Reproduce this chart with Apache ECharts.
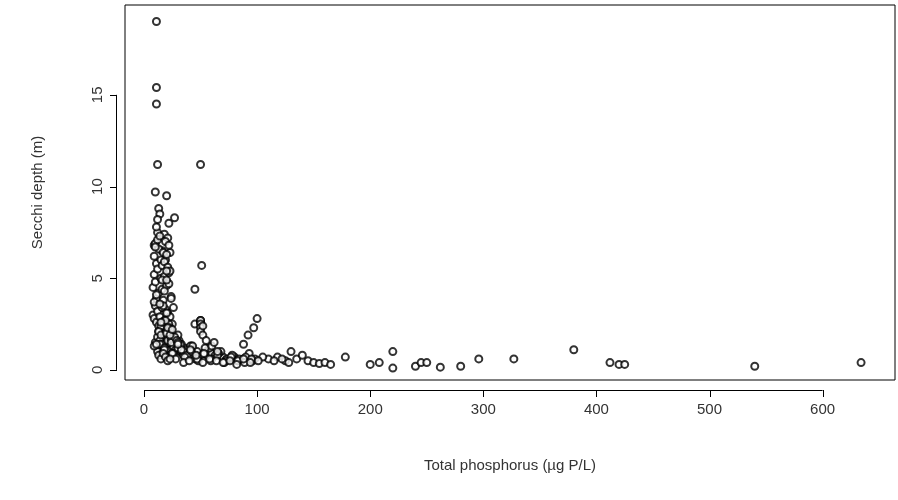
<!DOCTYPE html>
<html><head><meta charset="utf-8">
<script src="https://cdn.jsdelivr.net/npm/echarts@6/dist/echarts.min.js"></script>
<style>body{margin:0;background:#fff}#c{width:898px;height:500px}</style>
</head><body><div id="c"></div>
<script>
// total phosphorus (ug P/L)
const tp = [
  11,11,11,12,50,51,45,10,20,13,14,27,22,12,18,21,9,16,23,19,11,
  100,97,92,88,130,178,200,208,220,220,240,245,250,262,280,296,327,380,412,420,425,540,634,
  145,150,155,160,165,135,125,118,110,140,105,115,128,122,
  8,9,10,11,12,13,14,15,16,17,18,19,20,21,22,23,24,25,
  8,9,10,11,12,13,14,15,16,17,18,19,20,21,22,23,24,
  9,10,11,12,13,14,15,16,17,18,19,20,21,22,23,
  10,11,12,13,14,15,16,17,18,19,20,21,22,
  9,11,13,15,17,19,21,23,25,27,29,31,
  12,14,16,18,20,22,24,26,28,30,32,34,36,
  15,18,21,24,27,30,33,36,39,42,45,48,
  20,23,26,29,32,35,38,41,44,47,50,53,56,
  25,30,35,40,45,50,55,60,65,70,75,80,
  28,33,38,43,48,53,58,63,68,73,78,83,88,93,98,
  30,36,42,48,54,60,66,72,78,84,90,96,
  35,41,47,53,59,65,71,77,83,89,95,101,
  40,46,52,58,64,70,76,82,88,94,
  50,50,50,50,52,52,55,60,62,65,
  14,16,18,20,22,24,26,12,10,20,25,30,
  9,11,13,15,17,19,21,23
];
// Secchi depth (m)
const secchi = [
  19,15.4,14.5,11.2,11.2,5.7,4.4,9.7,9.5,8.8,8.5,8.3,8.0,7.5,7.4,7.2,6.8,6.5,6.4,6.0,5.8,
  2.8,2.3,1.9,1.4,1.0,0.7,0.3,0.4,1.0,0.1,0.2,0.4,0.4,0.15,0.2,0.6,0.6,1.1,0.4,0.3,0.3,0.2,0.4,
  0.5,0.4,0.35,0.4,0.3,0.6,0.5,0.7,0.6,0.8,0.7,0.5,0.4,0.6,
  4.5,5.2,4.8,3.9,5.5,4.2,3.6,5.0,4.4,3.8,5.1,3.3,4.6,3.1,5.3,2.9,4.0,2.5,
  3.0,2.8,3.5,2.6,3.2,2.4,2.9,2.2,3.4,2.0,2.7,1.9,3.1,1.8,2.5,2.3,1.7,
  6.2,6.9,7.8,7.1,6.6,7.3,6.0,5.7,6.4,5.9,7.0,6.3,5.6,6.8,5.4,
  1.5,1.3,1.8,2.1,1.6,2.4,1.4,2.6,1.2,2.0,1.1,1.7,1.5,
  3.7,4.1,2.1,1.9,3.5,2.7,1.6,2.2,1.8,1.5,1.3,1.6,
  1.0,1.4,0.9,1.2,2.0,0.8,1.7,1.3,1.1,1.9,1.0,0.9,1.2,
  2.6,1.1,2.3,1.5,1.8,1.2,1.4,1.0,0.9,1.3,2.5,0.8,
  0.7,1.9,0.9,1.6,1.4,0.8,1.1,1.3,0.7,1.0,2.6,0.9,0.8,
  0.9,1.2,1.0,0.8,0.6,2.7,1.0,0.9,0.8,0.7,0.6,0.7,
  0.6,1.1,0.8,1.3,0.7,0.9,1.2,0.8,1.0,0.6,0.7,0.5,0.6,0.9,0.6,
  1.5,0.7,1.0,0.5,1.2,0.6,0.9,0.5,0.8,0.6,0.7,0.5,
  0.4,1.1,0.6,0.9,0.5,0.8,0.4,0.7,0.5,0.4,0.6,0.5,
  0.5,0.8,0.4,0.6,0.5,0.4,0.5,0.3,0.6,0.4,
  2.7,2.5,2.3,2.1,1.9,2.4,1.6,1.3,1.5,1.0,
  3.6,4.9,4.3,5.4,4.7,3.9,3.4,8.2,6.7,4.9,2.2,1.4,
  1.3,1.4,0.8,0.6,0.9,0.7,0.5,0.6
];
const xTicks = [0, 100, 200, 300, 400, 500, 600];
const yTicks = [0, 5, 10, 15];
const data = tp.map((x, i) => [x, secchi[i]]);

const chart = echarts.init(document.getElementById('c'));
const font = {color: '#333', fontSize: 15, fontFamily: 'Liberation Sans, Arial'};
chart.setOption({
  animation: false,
  grid: {left: 125, right: 3, top: 5, bottom: 120, show: true, borderColor: '#000', borderWidth: 1},
  xAxis: {
    type: 'value', min: -16.8, max: 664,
    axisLine: {show: false}, axisTick: {show: false}, splitLine: {show: false},
    axisLabel: Object.assign({}, font, {margin: 22, customValues: xTicks}),
    name: 'Total phosphorus (µg P/L)', nameLocation: 'middle', nameGap: 78, nameTextStyle: font
  },
  yAxis: {
    type: 'value', min: -0.55, max: 19.9,
    axisLine: {show: false}, axisTick: {show: false}, splitLine: {show: false},
    axisLabel: Object.assign({}, font, {margin: 20, rotate: 90, customValues: yTicks}),
    name: 'Secchi depth (m)', nameLocation: 'middle', nameGap: 80, nameTextStyle: font
  },
  series: [{
    type: 'scatter', data: data, symbol: 'emptyCircle', symbolSize: 7,
    itemStyle: {color: '#000', borderColor: '#000', borderWidth: 1}
  }]
});

// R-style axes: line spans first..last tick, offset outside the box
const ls = {stroke: '#000', lineWidth: 1};
const els = [];
const xl = chart.convertToPixel({xAxisIndex: 0}, 0), xr = chart.convertToPixel({xAxisIndex: 0}, 600);
els.push({type: 'line', shape: {x1: xl, y1: 390.5, x2: xr, y2: 390.5}, style: ls});
xTicks.forEach(v => {
  const p = Math.round(chart.convertToPixel({xAxisIndex: 0}, v)) + 0.5;
  els.push({type: 'line', shape: {x1: p, y1: 390, x2: p, y2: 397}, style: ls});
});
const yb = chart.convertToPixel({yAxisIndex: 0}, 0), yt = chart.convertToPixel({yAxisIndex: 0}, 15);
els.push({type: 'line', shape: {x1: 116.5, y1: yb, x2: 116.5, y2: yt}, style: ls});
yTicks.forEach(v => {
  const p = Math.round(chart.convertToPixel({yAxisIndex: 0}, v)) + 0.5;
  els.push({type: 'line', shape: {x1: 110, y1: p, x2: 117, y2: p}, style: ls});
});
chart.setOption({graphic: els});
</script></body></html>
